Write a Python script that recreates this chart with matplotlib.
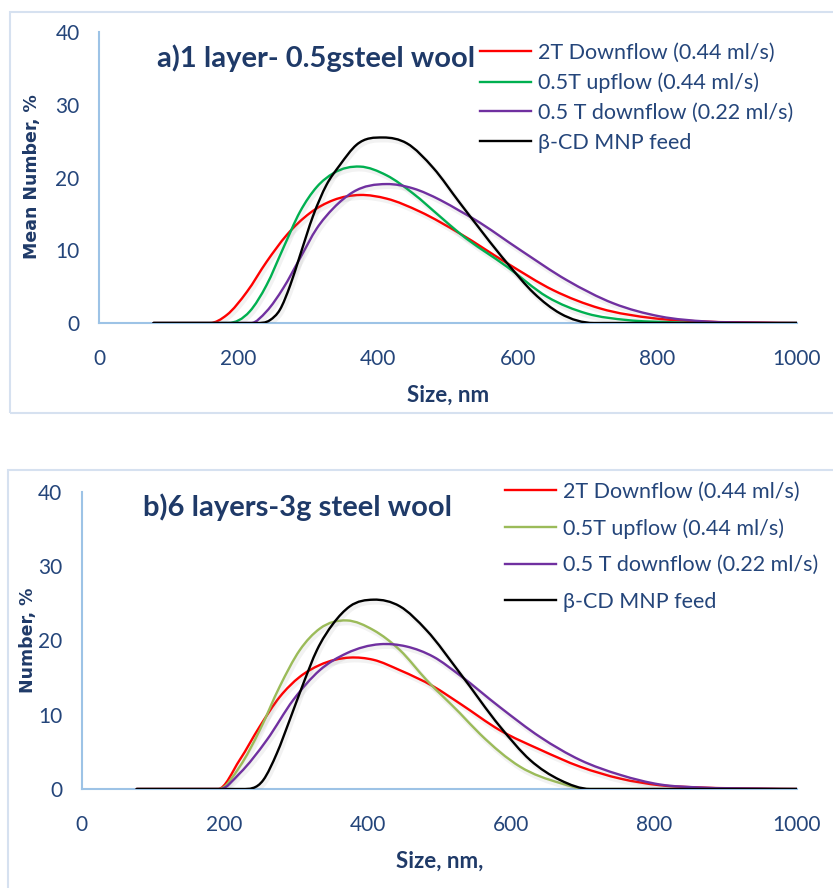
import numpy as np
import matplotlib
matplotlib.use('Agg')
import matplotlib.pyplot as plt
import matplotlib.patheffects as pe
from matplotlib.path import Path
from matplotlib.patches import PathPatch, Rectangle

# ---- panel a) 1 layer, 0.5 g steel wool ----
a_red_x = [78, 159, 183, 212, 240, 269, 302, 336, 374, 412, 460, 517, 585, 651, 718, 795, 866, 950, 1000]
a_red_y = [0, 0, 1.1, 4.3, 8.4, 12.1, 15.1, 16.9, 17.6, 17.1, 15.3, 12.3, 8.2, 4.5, 2.0, 0.65, 0.2, 0.05, 0]

a_green_x = [78, 185, 216, 240, 264, 288, 312, 336, 374, 412, 450, 489, 517, 585, 642, 699, 757, 820, 1000]
a_green_y = [0, 0, 1.6, 5.2, 10.3, 15.3, 18.7, 20.6, 21.5, 20.3, 17.8, 14.6, 12.3, 7.7, 3.6, 1.3, 0.4, 0.1, 0]

a_purple_x = [78, 218, 240, 264, 288, 312, 336, 364, 412, 450, 489, 517, 537, 604, 670, 737, 804, 871, 938, 1000]
a_purple_y = [0, 0, 1.6, 4.8, 8.9, 13.0, 15.8, 18.0, 19.1, 18.5, 16.9, 15.4, 14.3, 10.0, 5.9, 2.7, 0.9, 0.2, 0.05, 0]

a_black_x = [78, 225, 245, 259, 274, 288, 307, 326, 345, 369, 407, 441, 479, 517, 585, 623, 661, 709, 1000]
a_black_y = [0, 0, 0.4, 1.8, 5.2, 9.3, 14.8, 19.0, 21.7, 24.5, 25.5, 24.7, 21.3, 16.5, 8.2, 4.1, 1.3, 0, 0]

# ---- panel b) 6 layers, 3 g steel wool ----
b_red_x = [77, 191, 221, 249, 277, 305, 333, 375, 408, 445, 492, 529, 585, 641, 697, 753, 809, 865, 950, 1000]
b_red_y = [0, 0, 3.9, 8.4, 12.4, 15.1, 16.7, 17.7, 17.4, 16.0, 13.8, 11.5, 7.9, 5.3, 3.0, 1.4, 0.5, 0.2, 0.05, 0]

b_green_x = [77, 192, 221, 249, 277, 305, 333, 371, 408, 445, 482, 529, 557, 613, 669, 706, 1000]
b_green_y = [0, 0, 3.0, 7.9, 13.8, 18.7, 21.6, 22.7, 21.4, 18.7, 14.7, 10.2, 7.4, 3.0, 0.8, 0, 0]

b_purple_x = [77, 194, 221, 259, 296, 333, 371, 417, 454, 492, 529, 585, 641, 697, 753, 809, 865, 950, 1000]
b_purple_y = [0, 0, 2.1, 6.6, 12.0, 16.0, 18.3, 19.5, 19.2, 17.8, 15.3, 11.0, 7.0, 3.9, 1.9, 0.6, 0.2, 0.05, 0]

b_black_x = [77, 225, 254, 273, 291, 310, 329, 352, 375, 408, 445, 482, 529, 585, 627, 669, 711, 1000]
b_black_y = [0, 0, 1.2, 4.8, 9.3, 14.2, 18.7, 22.3, 24.6, 25.5, 24.6, 21.4, 15.6, 8.4, 3.9, 1.2, 0, 0]

labels = ['2T Downflow (0.44 ml/s)', '0.5T upflow (0.44 ml/s)',
          '0.5 T downflow (0.22 ml/s)', '\u03b2-CD MNP feed']

TEXT = '#24457a'
TITLE = '#1f3a68'
AXIS = '#9dc3e6'
FRAME = '#d6e1f0'


def smooth_path(x, y):
    # cubic Hermite through the points (three-point slopes), as Bezier segments
    x = np.asarray(x, float)
    y = np.asarray(y, float)
    n = len(x)
    h = np.diff(x)
    d = np.diff(y) / h
    m = np.zeros(n)
    for i in range(1, n - 1):
        if y[i] == 0:
            continue
        m[i] = (h[i - 1] * d[i] + h[i] * d[i - 1]) / (h[i - 1] + h[i])
    verts = [(x[0], y[0])]
    codes = [Path.MOVETO]
    for i in range(n - 1):
        verts += [(x[i] + h[i] / 3, y[i] + m[i] * h[i] / 3),
                  (x[i + 1] - h[i] / 3, y[i + 1] - m[i + 1] * h[i] / 3),
                  (x[i + 1], y[i + 1])]
        codes += [Path.CURVE4] * 3
    return Path(verts, codes)


def draw_panel(ax, series, title, ylabel, xlabel, title_xy, leg_anchor, leg_spacing):
    shadow = [pe.SimpleLineShadow(offset=(1.2, -1.8), shadow_color='gray', alpha=0.1, linewidth=3.5),
              pe.Normal()]
    for (sx, sy, color), label in zip(series, labels):
        patch = PathPatch(smooth_path(sx, sy), fill=False, edgecolor=color, lw=1.7,
                          capstyle='round', joinstyle='round', path_effects=shadow)
        ax.add_patch(patch)
        ax.plot([], [], color=color, lw=1.7, label=label)

    ax.set_xlim(0, 1000)
    ax.set_ylim(0, 40)
    ax.set_xticks(range(0, 1001, 200))
    ax.set_yticks(range(0, 41, 10))
    for side in ['top', 'right']:
        ax.spines[side].set_visible(False)
    for side in ['left', 'bottom']:
        ax.spines[side].set_color(AXIS)
        ax.spines[side].set_linewidth(1.5)
    ax.spines['bottom'].set_zorder(0.5)
    ax.tick_params(length=0, labelcolor=TEXT, labelsize=15)
    ax.tick_params(axis='x', pad=19)
    ax.tick_params(axis='y', pad=14)
    for t in ax.get_xticklabels() + ax.get_yticklabels():
        t.set_fontfamily('Lato')

    ax.set_xlabel(xlabel, fontsize=16, fontweight='bold', color=TITLE,
                  fontfamily='Lato', labelpad=11)
    ax.set_ylabel(ylabel, fontsize=12.5, fontweight='bold', color=TITLE,
                  fontfamily='DejaVu Sans')

    ax.text(title_xy[0], title_xy[1], title, transform=ax.figure.dpi_scale_trans,
            fontsize=21, fontweight='bold', color=TITLE, fontfamily='Lato',
            ha='left', va='center')

    ax.legend(loc='upper left', bbox_to_anchor=leg_anchor,
              bbox_transform=ax.figure.dpi_scale_trans, frameon=False,
              prop={'family': 'Lato', 'size': 15.5}, labelcolor=TEXT,
              handlelength=2.35, handletextpad=0.33, labelspacing=leg_spacing,
              borderpad=0, borderaxespad=0)


fig = plt.figure(figsize=(8.33, 8.88), dpi=100)
H = 8.88

# chart-area frames
fig.add_artist(Rectangle((10 / 833, 1 - 413 / 888), 830 / 833, 401 / 888,
                         transform=fig.transFigure, fill=False, ec=FRAME, lw=1.5))
fig.add_artist(Rectangle((8 / 833, -0.01), 830 / 833, 1 - 470 / 888 + 0.01,
                         transform=fig.transFigure, fill=False, ec=FRAME, lw=1.5))

ax1 = fig.add_axes([99 / 833, 1 - 323 / 888, 698 / 833, 291 / 888])
draw_panel(ax1,
           [(a_red_x, a_red_y, '#ff0000'), (a_green_x, a_green_y, '#00b050'),
            (a_purple_x, a_purple_y, '#7030a0'), (a_black_x, a_black_y, '#000000')],
           'a)1 layer- 0.5gsteel wool', 'Mean Number, %', 'Size, nm',
           (1.57, H - 0.58), (4.80, H - 0.43), 0.45)
ax1.yaxis.set_label_coords(41 / 833, 1 - 177 / 888, transform=fig.transFigure)

ax2 = fig.add_axes([81.5 / 833, 1 - 789 / 888, 715.5 / 833, 297 / 888])
draw_panel(ax2,
           [(b_red_x, b_red_y, '#ff0000'), (b_green_x, b_green_y, '#9bbb59'),
            (b_purple_x, b_purple_y, '#7030a0'), (b_black_x, b_black_y, '#000000')],
           'b)6 layers-3g steel wool', 'Number, %', 'Size, nm,',
           (1.43, H - 5.07), (5.05, H - 4.82), 0.76)
ax2.yaxis.set_label_coords(37 / 833, 1 - 640 / 888, transform=fig.transFigure)

fig.savefig('out.png', dpi=100)
